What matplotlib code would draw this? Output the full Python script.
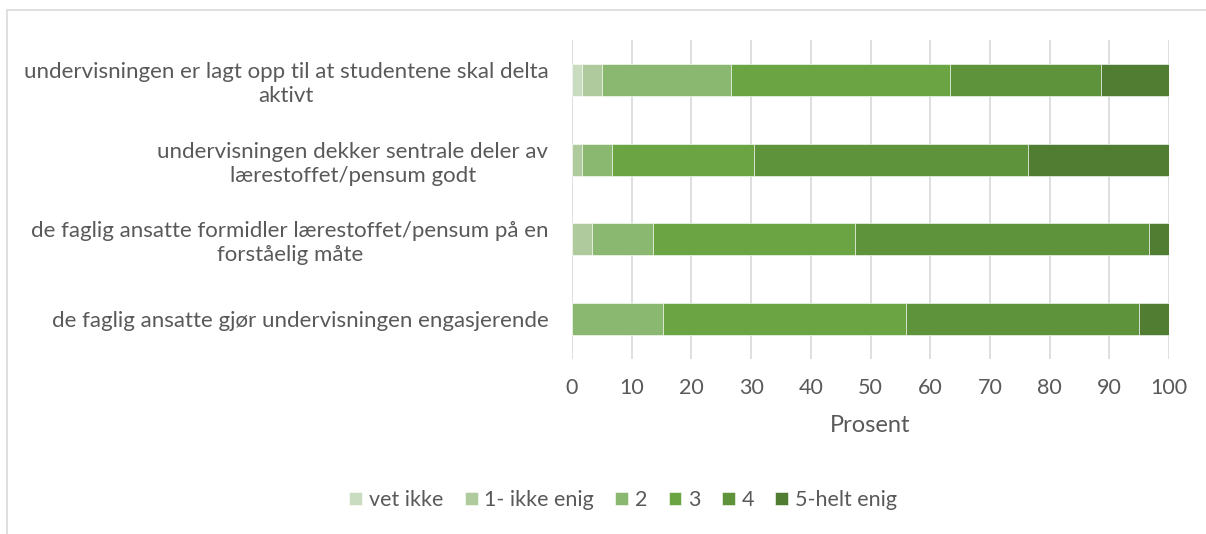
import numpy as np
import matplotlib
matplotlib.use('Agg')
import matplotlib.pyplot as plt
from matplotlib.patches import Rectangle

# data (percent, each row sums to 100)
questions = ['undervisningen er lagt opp til at studentene skal delta\naktivt',
             'undervisningen dekker sentrale deler av\nlærestoffet/pensum godt',
             'de faglig ansatte formidler lærestoffet/pensum på en\nforståelig måte',
             'de faglig ansatte gjør undervisningen engasjerende']
categories = ['vet ikke', '1- ikke enig', '2', '3', '4', '5-helt enig']
vet_ikke = [1.6, 0.0, 0.0, 0.0]
ikke_enig = [3.4, 1.6, 3.3, 0.0]
two = [21.7, 5.1, 10.2, 15.2]
three = [36.6, 23.8, 33.9, 40.7]
four = [25.3, 45.8, 49.3, 39.1]
helt_enig = [11.4, 23.7, 3.3, 5.0]
series = [vet_ikke, ikke_enig, two, three, four, helt_enig]
colors = ['#c9dcc0', '#afcb9d', '#8bb870', '#6ba443', '#5e923b', '#507d32']

plt.rcParams['font.family'] = ['Lato', 'DejaVu Sans']
txt = '#595959'

fig = plt.figure(figsize=(12.06, 5.34), dpi=100)
W, H = 1206, 534
ax = fig.add_axes([572 / W, 1 - 359 / H, (1169 - 572) / W, (359 - 40) / H])

# chart area border
fig.patches.append(Rectangle((7 / W, -0.1), 1.2, 1 - 10 / H + 0.1, transform=fig.transFigure,
                             fill=False, edgecolor='#d9d9d9', lw=1.2))

y = np.arange(len(questions))
left = np.zeros(len(questions))
for vals, name, c in zip(series, categories, colors):
    ax.barh(y, vals, left=left, height=0.4, color=c, edgecolor='white', linewidth=0.4,
            label=name, zorder=3)
    left += np.array(vals)

ax.set_xlim(0, 100)
ax.set_ylim(3.5, -0.5)
ax.set_xticks(np.arange(0, 101, 10))
ax.grid(axis='x', color='#d9d9d9', lw=1.2, zorder=0)
for s in ax.spines.values():
    s.set_visible(False)
ax.tick_params(axis='both', length=0, colors=txt)
ax.tick_params(axis='y', pad=17, labelsize=16)
ax.tick_params(axis='x', pad=14, labelsize=15.5)
ax.set_yticks(y)
ax.set_yticklabels(questions)
for t in ax.get_yticklabels():
    t.set_horizontalalignment('right')
    t.set_multialignment('center')
    t.set_linespacing(1.25)
ax.set_xlabel('Prosent', color=txt, fontsize=17, labelpad=12)

handles, labels = ax.get_legend_handles_labels()
fig.legend(handles, labels, loc='center', bbox_to_anchor=(623 / W, 1 - 500 / H), ncol=6,
           frameon=False, fontsize=15.5, labelcolor=txt, handlelength=0.6, handleheight=0.6,
           handletextpad=0.3, columnspacing=1.0)

fig.savefig('out.png', dpi=100, facecolor='white')
